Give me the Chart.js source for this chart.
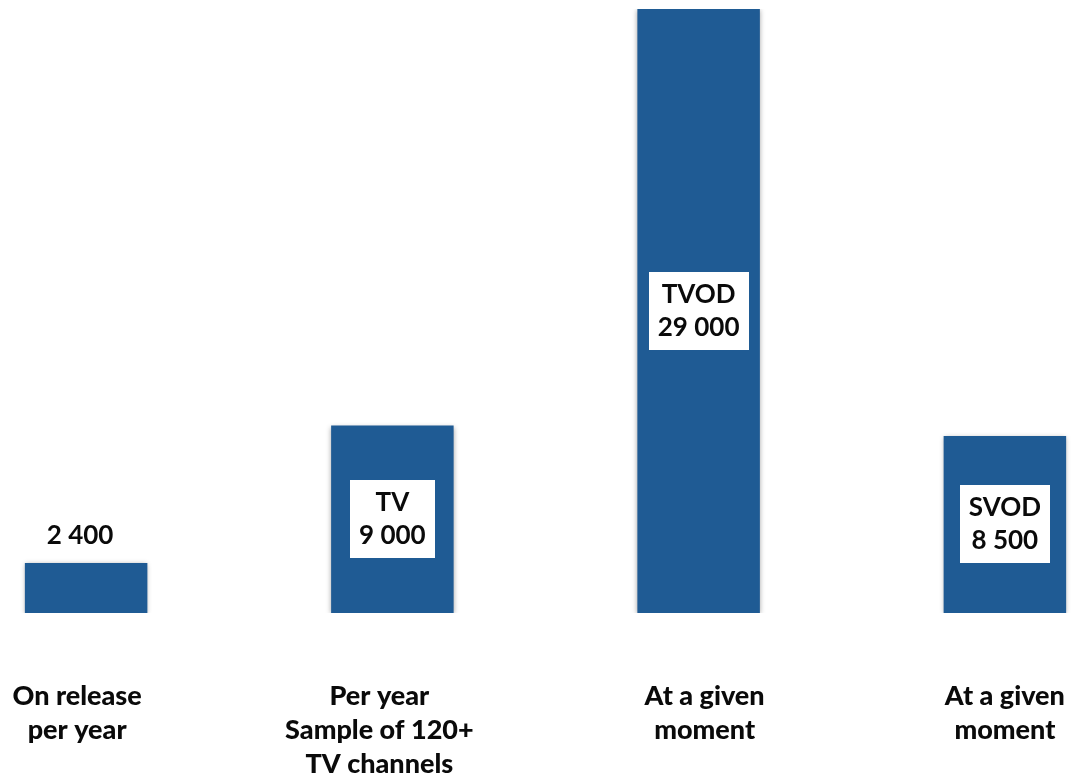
<!DOCTYPE html>
<html>
<head>
<meta charset="utf-8">
<script src="https://cdn.jsdelivr.net/npm/chart.js@4/dist/chart.umd.min.js"></script>
<style>
    html, body { margin: 0; padding: 0; background: #fff; overflow: hidden; }
    #wrap { position: absolute; left: -67px; top: 0; width: 1225px; height: 781px; }
</style>
</head>
<body>
<div id="wrap"><canvas id="filmChart"></canvas></div>
<script>
// Number of films available, by window
const categories = [
    ["On release", "per year"],
    ["Per year", "Sample of 120+", "TV channels"],
    ["At a given", "moment"],
    ["At a given", "moment"]
];
const boxNames = ["", "TV", "TVOD", "SVOD"];
const filmCounts = [2400, 9000, 29000, 8500];

const barColor = "#1f5b94";
const textColor = "#0a0a0a";
const fontFamily = "Lato, 'Noto Sans', sans-serif";

// nudges for the category captions (px)
const captionShift = [-9, -13, 6, 0];

function formatCount(v) {
    return String(v).replace(/\B(?=(\d{3})+(?!\d))/g, " ");
}

// Soft grey shadow around bars
const barShadow = {
    id: "barShadow",
    beforeDatasetsDraw(chart) {
        const ctx = chart.ctx;
        ctx.save();
        ctx.shadowColor = "rgba(0, 0, 0, 0.35)";
        ctx.shadowBlur = 5;
        ctx.shadowOffsetX = 0;
        ctx.shadowOffsetY = 1;
    },
    afterDatasetsDraw(chart) {
        chart.ctx.restore();
    }
};

// Value boxes inside bars and captions under them
const barLabels = {
    id: "barLabels",
    afterDatasetsDraw(chart) {
        const ctx = chart.ctx;
        const meta = chart.getDatasetMeta(0);
        ctx.save();
        ctx.textAlign = "center";
        ctx.fillStyle = textColor;

        meta.data.forEach((bar, i) => {
            const value = formatCount(filmCounts[i]);
            const name = boxNames[i];
            ctx.font = "bold 26px " + fontFamily;

            if (!name) {
                ctx.textBaseline = "alphabetic";
                ctx.fillStyle = textColor;
                ctx.fillText(value, bar.x - 6, bar.y - 19);
                return;
            }

            const midY = (bar.y + bar.base) / 2;
            const w = Math.max(ctx.measureText(name).width, ctx.measureText(value).width) + 18;
            const h = 78;
            ctx.fillStyle = "#ffffff";
            ctx.fillRect(Math.round(bar.x - w / 2), Math.round(midY - h / 2), Math.round(w), h);

            ctx.fillStyle = textColor;
            ctx.textBaseline = "middle";
            ctx.fillText(name, bar.x, midY - 16.5);
            ctx.fillText(value, bar.x, midY + 16.5);
        });

        // category captions
        ctx.font = "900 27px " + fontFamily;
        ctx.textBaseline = "alphabetic";
        ctx.fillStyle = textColor;
        const xScale = chart.scales.x;
        categories.forEach((lines, i) => {
            const x = xScale.getPixelForValue(i) + captionShift[i];
            lines.forEach((line, j) => {
                ctx.fillText(line, x, 705 + j * 34);
            });
        });
        ctx.restore();
    }
};

new Chart(document.getElementById("filmChart"), {
    type: "bar",
    data: {
        labels: categories.map(c => c.join(" ")),
        datasets: [{
            data: filmCounts,
            backgroundColor: barColor,
            borderWidth: 0,
            barPercentage: 0.4,
            categoryPercentage: 1.0
        }]
    },
    options: {
        responsive: true,
        maintainAspectRatio: false,
        animation: false,
        layout: {
            padding: { top: 9, bottom: 168, left: 0, right: 0 }
        },
        plugins: {
            legend: { display: false },
            tooltip: { enabled: false }
        },
        scales: {
            x: { display: false },
            y: { display: false, min: 0, max: 29000 }
        }
    },
    plugins: [barShadow, barLabels]
});
</script>
</body>
</html>
